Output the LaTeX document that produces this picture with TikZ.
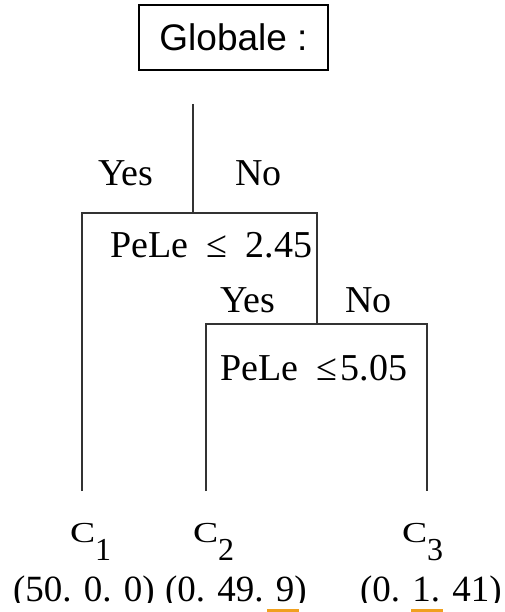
\documentclass[tikz,border=0pt]{standalone}
\usepackage{fontspec}
\setmainfont{Liberation Serif}
\newfontfamily\sansf{Liberation Sans}
\definecolor{treeline}{HTML}{333333}
\definecolor{mark}{RGB}{240,160,30}
\tikzset{
  lbl/.style={inner sep=0pt, outer sep=0pt, anchor=base west, font=\fontsize{38}{40}\selectfont},
  btm/.style={inner sep=0pt, outer sep=0pt, anchor=base west, font=\fontsize{37}{40}\selectfont},
  leaf/.style={inner sep=0pt, outer sep=0pt, anchor=base west, font=\fontsize{29}{32}\selectfont},
  branch/.style={draw=treeline, line width=1.3pt},
  titlebox/.style={draw=black, line width=1.5pt, minimum width=189pt, minimum height=65pt, inner sep=0pt, font=\sansf\fontsize{37}{40}\selectfont},
  marker/.style={fill=mark, draw=none}
}
\newcommand{\subdig}[1]{\raisebox{-18pt}{\fontsize{32}{34}\selectfont #1}}
\begin{document}
\begin{tikzpicture}[x=1pt,y=-1pt]
\useasboundingbox (0,0) rectangle (504,612);
% title
\node[titlebox] (glob) at (233.5,37.5) {Globale :};
% tree coordinates
\coordinate (top) at (193,104);
\coordinate (j1) at (193,213);
\coordinate (l1) at (82,213);
\coordinate (r1) at (317,213);
\coordinate (leafA) at (82,491);
\coordinate (j2) at (317,324);
\coordinate (l2) at (206,324);
\coordinate (r2) at (427,324);
\coordinate (leafB) at (206,491);
\coordinate (leafC) at (427,491);
\draw[branch] (top) -- (j1);
\draw[branch] (leafA) -- (l1) -- (r1) -- (j2);
\draw[branch] (leafB) -- (l2) -- (r2) -- (leafC);
% first split labels
\node[lbl] (yes1) at (98,186) {Yes};
\node[lbl] (no1) at (235,186) {No};
\node[lbl] (cond1) at (110,257) {PeLe\hspace{18pt}≤\hspace{19pt}2.45};
% second split labels
\node[lbl] (yes2) at (220,312) {Yes};
\node[lbl] (no2) at (345,312) {No};
\node[lbl] (cond2) at (220,380) {PeLe\hspace{18pt}≤\hspace{4pt}5.05};
% leaves
\node[leaf] (c1) at (70,542) {\scalebox{1.3}[1]{C}\subdig{1}};
\node[leaf] (c2) at (193,542) {\scalebox{1.3}[1]{C}\subdig{2}};
\node[leaf] (c3) at (402,542) {\scalebox{1.3}[1]{C}\subdig{3}};
\begin{scope}
\clip (0,0) rectangle (504,602);
\node[btm] (n1) at (13,601) {(50. 0. 0)};
\node[btm] (n2) at (165,601) {(0. 49. 9)};
\node[btm] (n3) at (360,601) {(0. 1. 41)};
\end{scope}
\fill[marker] (267,609) rectangle (299,612);
\fill[marker] (411,609) rectangle (443,612);
\end{tikzpicture}
\end{document}
